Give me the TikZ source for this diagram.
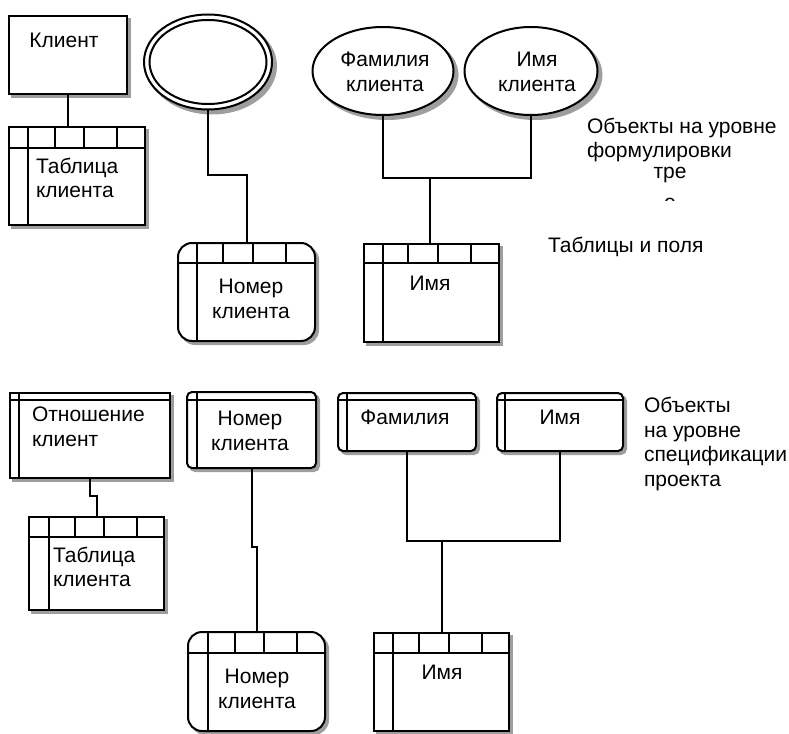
\documentclass[tikz,border=0pt]{standalone}
\usepackage{fontspec}
\setmainfont{Liberation Sans}
\usetikzlibrary{shapes.geometric,calc}
\newcommand\tgrid[4]{%
  \draw ([yshift=-#2pt]#1.north west) -- ([yshift=-#2pt]#1.north east);
  \draw ([xshift=#3pt]#1.north west) -- ([xshift=#3pt]#1.south west);
  \foreach \d in {#4} \draw ([xshift=\d pt]#1.north west) -- ([xshift=\d pt,yshift=-#2pt]#1.north west);
}
\newcommand\ibox[3]{%
  \draw ([yshift=-#3pt]#1.north west) -- ([yshift=-#3pt]#1.north east);
  \draw ([xshift=#2pt]#1.north west) -- ([xshift=#2pt]#1.south west);
}
% shadowed box: name, style, x, y, w, h, corner radius
\newcommand\shbox[7]{%
  \filldraw[shadowc,rounded corners=#7pt] (#3+4,#4+4) rectangle (#3+#5+4,#4+#6+4);
  \node[#2,sz={#5}{#6}] (#1) at (#3,#4) {};}
% shadowed ellipse: name, cx, cy, w, h
\newcommand\shellipse[5]{%
  \filldraw[shadowc] (#2+4,#3+4) ellipse [x radius=#4/2*1pt, y radius=#5/2*1pt];
  \node[ell,sz={#4}{#5}] (#1) at (#2,#3) {};}
\begin{document}
\begin{tikzpicture}[x=1pt,y=-1pt,line width=2pt,
  shadowc/.style={draw=black!38,fill=black!38,line width=2pt},
  sz/.style 2 args={minimum width=#1pt,minimum height=#2pt},
  boxnode/.style={draw,fill=white,rectangle,anchor=north west,inner sep=0pt,line width=2pt},
  rtab/.style={boxnode,rounded corners=14pt},
  rbox/.style={boxnode,rounded corners=5pt},
  ell/.style={draw,fill=white,ellipse,inner sep=0pt,line width=2pt},
  txt/.style={font=\fontsize{21}{24.5}\selectfont,inner sep=0pt,align=center},
  ltxt/.style={txt,align=left,anchor=west},
  conn/.style={line width=2pt}
]
\useasboundingbox (0,0) rectangle (789,733);

% ---------- top part ----------
\shbox{klient}{boxnode}{8}{15}{118}{78}{0}
\node[txt] (tklient) at (64,40) {Клиент};

\shbox{tab1}{boxnode}{8}{126}{136}{98}{0}
\tgrid{tab1}{22}{20}{47,76,109}
\node[ltxt] (ttab1) at (35,178) {Таблица\\клиента};

\shellipse{dblo}{208}{62}{128}{95}
\node[ell,sz={117}{84}] (dbli) at (208,62) {};

\shbox{tnom}{rtab}{177}{242}{137}{98}{14}
\tgrid{tnom}{21}{20}{46,76,109}
\node[txt] (ttnom) at (251,299) {Номер\\клиента};

\shellipse{fam}{383}{71}{141}{88}
\node[txt] (tfam) at (385,72) {Фамилия\\клиента};
\shellipse{imn}{531}{71}{133}{88}
\node[txt] (timn) at (537,72) {Имя\\клиента};

\shbox{timya}{boxnode}{363}{243}{135}{98}{0}
\tgrid{timya}{20}{20}{45,75,108}
\node[txt] (ttimya) at (430,283) {Имя};

\node[ltxt] (obj1) at (586,140) {Объекты на уровне\\формулировки};
\node[txt] (tre) at (670,175) {тре};
\begin{scope}
  \clip (600,160) rectangle (750,200.5);
  \node[txt] (cuto) at (670,204) {о};
\end{scope}
\node[ltxt] (tabpol) at (547,247) {Таблицы и поля};

\coordinate (j1) at (430,178);
\draw[conn] (klient.south) -- (klient.south |- tab1.north);
\draw[conn] (dblo.south) -- (dblo.south |- 0,175) -| (tnom.north);
\draw[conn] (fam.south) |- (j1) -| (imn.south);
\draw[conn] (j1) -- (j1 |- timya.north);

% ---------- bottom part ----------
\shbox{otn}{boxnode}{9}{392}{160}{85}{0}
\ibox{otn}{10}{8}
\node[ltxt] (totn) at (31,427) {Отношение\\клиент};

\shbox{nom2}{rbox}{186}{391}{129}{76}{5}
\ibox{nom2}{11}{9}
\node[txt] (tnom2) at (250,431) {Номер\\клиента};

\shbox{fam2}{rbox}{337}{392}{138}{58}{5}
\ibox{fam2}{10}{8}
\node[txt] (tfam2) at (405,417) {Фамилия};

\shbox{imy2}{rbox}{496}{392}{126}{58}{5}
\ibox{imy2}{9}{8}
\node[txt] (timy2) at (560,417) {Имя};

\node[ltxt] (obj2) at (643,444) {Объекты\\на уровне\\спецификации\\проекта};

\shbox{tab2}{boxnode}{28}{516}{135}{93}{0}
\tgrid{tab2}{21}{21}{47,76,109}
\node[ltxt] (ttab2) at (52,567) {Таблица\\клиента};

\shbox{tnomb}{rtab}{187}{631}{137}{99}{14}
\tgrid{tnomb}{22}{21}{48,77,110}
\node[txt] (ttnomb) at (257,689) {Номер\\клиента};

\shbox{timyb}{boxnode}{373}{632}{135}{98}{0}
\tgrid{timyb}{21}{20}{46,76,109}
\node[txt] (ttimyb) at (442,672) {Имя};

\coordinate (j2) at (442,541);
\draw[conn] (otn.south) -- (otn.south |- 0,496) -| (tab2.north);
\draw[conn] (nom2.south) -- (nom2.south |- 0,547) -| (tnomb.north);
\draw[conn] (fam2.south) |- (j2) -| (imy2.south);
\draw[conn] (j2) -- (j2 |- timyb.north);
\end{tikzpicture}
\end{document}
